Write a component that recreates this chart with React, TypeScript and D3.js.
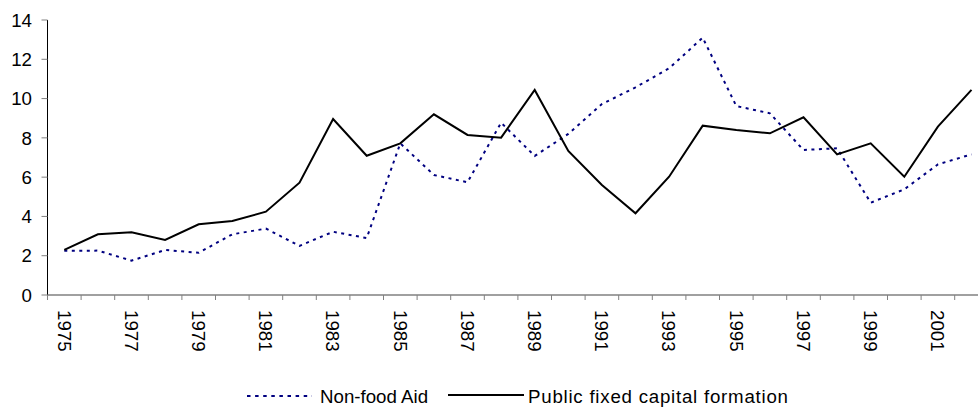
import React, { useRef, useEffect } from 'react';
import * as d3 from 'd3';

// Years on the category axis (1975-2002)
const years = [
  1975, 1976, 1977, 1978, 1979, 1980, 1981, 1982, 1983, 1984,
  1985, 1986, 1987, 1988, 1989, 1990, 1991, 1992, 1993, 1994,
  1995, 1996, 1997, 1998, 1999, 2000, 2001, 2002,
];

// Non-food Aid (dotted, navy)
const nonFoodAid = [
  2.25, 2.26, 1.75, 2.29, 2.15, 3.09, 3.38, 2.5, 3.22, 2.9,
  7.72, 6.11, 5.74, 8.77, 7.08, 8.2, 9.72, 10.57, 11.54, 13.1,
  9.62, 9.25, 7.38, 7.47, 4.7, 5.38, 6.65, 7.16,
];

// Public fixed capital formation (solid, black)
const publicCapital = [
  2.3, 3.09, 3.19, 2.8, 3.6, 3.77, 4.24, 5.72, 8.96, 7.09,
  7.72, 9.2, 8.15, 8.01, 10.44, 7.33, 5.6, 4.16, 6.02, 8.62,
  8.4, 8.23, 9.05, 7.16, 7.72, 6.02, 8.57, 10.44,
];

const yTicks = [0, 2, 4, 6, 8, 10, 12, 14];

const W = 978;
const H = 413;
const FONT = '"Liberation Sans", Arial, sans-serif';
const FS = 18.7;

const App = () => {
  const ref = useRef<SVGSVGElement | null>(null);

  useEffect(() => {
    document.body.style.margin = '0';
    const svg = d3.select(ref.current);
    svg.selectAll('*').remove();

    const left = 47.5;
    const band = 33.6;
    const x = d3.scaleBand<number>()
      .domain(years)
      .range([left, left + band * years.length])
      .padding(0);
    const y = d3.scaleLinear().domain([0, 14]).range([295, 20]);
    const cx = (yr: number) => (x(yr) as number) + x.bandwidth() / 2;

    // y axis
    svg.append('line')
      .attr('x1', left).attr('x2', left)
      .attr('y1', y(14)).attr('y2', y(0))
      .attr('stroke', '#000').attr('stroke-width', 1);
    yTicks.forEach(t => {
      svg.append('line')
        .attr('x1', left - 6).attr('x2', left)
        .attr('y1', y(t)).attr('y2', y(t))
        .attr('stroke', '#808080').attr('stroke-width', 1);
      svg.append('text')
        .attr('x', 32).attr('y', y(t))
        .attr('dy', '0.36em')
        .attr('text-anchor', 'end')
        .attr('font-family', FONT).attr('font-size', FS)
        .attr('fill', '#000')
        .text(t);
    });

    // x axis
    svg.append('line')
      .attr('x1', left).attr('x2', W)
      .attr('y1', y(0)).attr('y2', y(0))
      .attr('stroke', '#808080').attr('stroke-width', 1.5);
    years.forEach((yr, i) => {
      const xb = x(yr) as number;
      svg.append('line')
        .attr('x1', xb).attr('x2', xb)
        .attr('y1', y(0)).attr('y2', y(0) + 5)
        .attr('stroke', '#808080').attr('stroke-width', 1);
      if (i % 2 === 0) {
        svg.append('text')
          .attr('transform', `translate(${cx(yr)}, 310) rotate(90)`)
          .attr('dy', '0.36em')
          .attr('font-family', FONT).attr('font-size', FS)
          .attr('fill', '#000')
          .text(yr);
      }
    });

    const line = d3.line<number>()
      .x((_, i) => cx(years[i]))
      .y(d => y(d));

    svg.append('path')
      .attr('d', line(nonFoodAid))
      .attr('fill', 'none')
      .attr('stroke', '#000080')
      .attr('stroke-width', 2)
      .attr('stroke-dasharray', '3,4.5');

    svg.append('path')
      .attr('d', line(publicCapital))
      .attr('fill', 'none')
      .attr('stroke', '#000')
      .attr('stroke-width', 2);

    // Legend
    const ly = 396;
    svg.append('line')
      .attr('x1', 247).attr('x2', 312).attr('y1', ly).attr('y2', ly)
      .attr('stroke', '#000080').attr('stroke-width', 2)
      .attr('stroke-dasharray', '3.5,4.6');
    svg.append('text')
      .attr('x', 320).attr('y', 403)
      .attr('font-family', FONT).attr('font-size', FS)
      .text('Non-food Aid');
    svg.append('line')
      .attr('x1', 448).attr('x2', 524).attr('y1', ly - 1).attr('y2', ly - 1)
      .attr('stroke', '#000').attr('stroke-width', 2);
    svg.append('text')
      .attr('x', 528).attr('y', 403)
      .attr('font-family', FONT).attr('font-size', FS)
      .attr('textLength', 260)
      .attr('lengthAdjust', 'spacing')
      .text('Public fixed capital formation');
  }, []);

  return (
    <svg
      ref={ref}
      width={W}
      height={H}
      viewBox={`0 0 ${W} ${H}`}
      style={{ position: 'absolute', left: 0, top: 0, background: '#fff' }}
    />
  );
};

export default App;
